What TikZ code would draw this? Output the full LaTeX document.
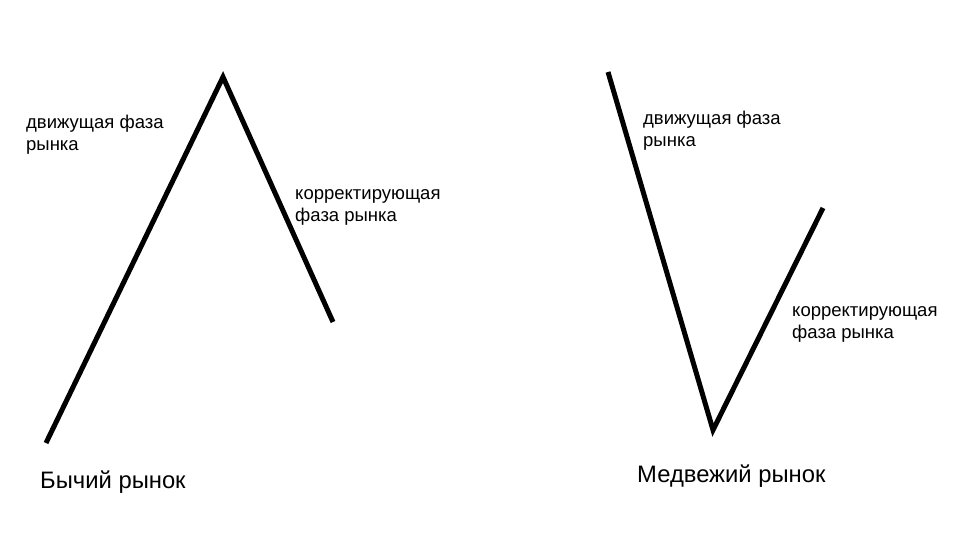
\documentclass[tikz,border=0pt]{standalone}
\usepackage{fontspec}
\setmainfont{Liberation Sans}

\begin{document}
\begin{tikzpicture}[x=1pt, y=-1pt,
	trend/.style={line width=5pt, color=black},
	phase/.style={anchor=base west, inner sep=0pt, align=left, font=\fontsize{18.5}{22}\selectfont},
	market/.style={anchor=base west, inner sep=0pt, font=\fontsize{23.8}{27}\selectfont}]
	%%%%% START %%%%%
	
	\useasboundingbox[fill=white] (0, 0) rectangle (960, 540);
	
	% bull market
	\coordinate (bullstart) at (46, 443);
	\coordinate (bullpeak) at (223, 77);
	\coordinate (bullend) at (333, 322);
	\draw[trend] (bullstart) -- (bullpeak) -- (bullend);
	
	\node[phase] (bullmove) at (26, 150.5) {движущая фаза\\рынка};
	\node[phase] (bullcorr) at (295, 221) {корректирующая\\фаза рынка};
	\node[market] (bull) at (40, 488) {Бычий рынок};
	
	% bear market
	\coordinate (bearstart) at (608, 72);
	\coordinate (bearlow) at (713, 430);
	\coordinate (bearend) at (823, 208);
	\draw[trend] (bearstart) -- (bearlow) -- (bearend);
	
	\node[phase] (bearmove) at (643, 147) {движущая фаза\\рынка};
	\node[phase] (bearcorr) at (792, 338.5) {корректирующая\\фаза рынка};
	\node[market] (bear) at (637, 482) {Медвежий рынок};
	
	%%%%% END %%%%%
\end{tikzpicture}
\end{document}
